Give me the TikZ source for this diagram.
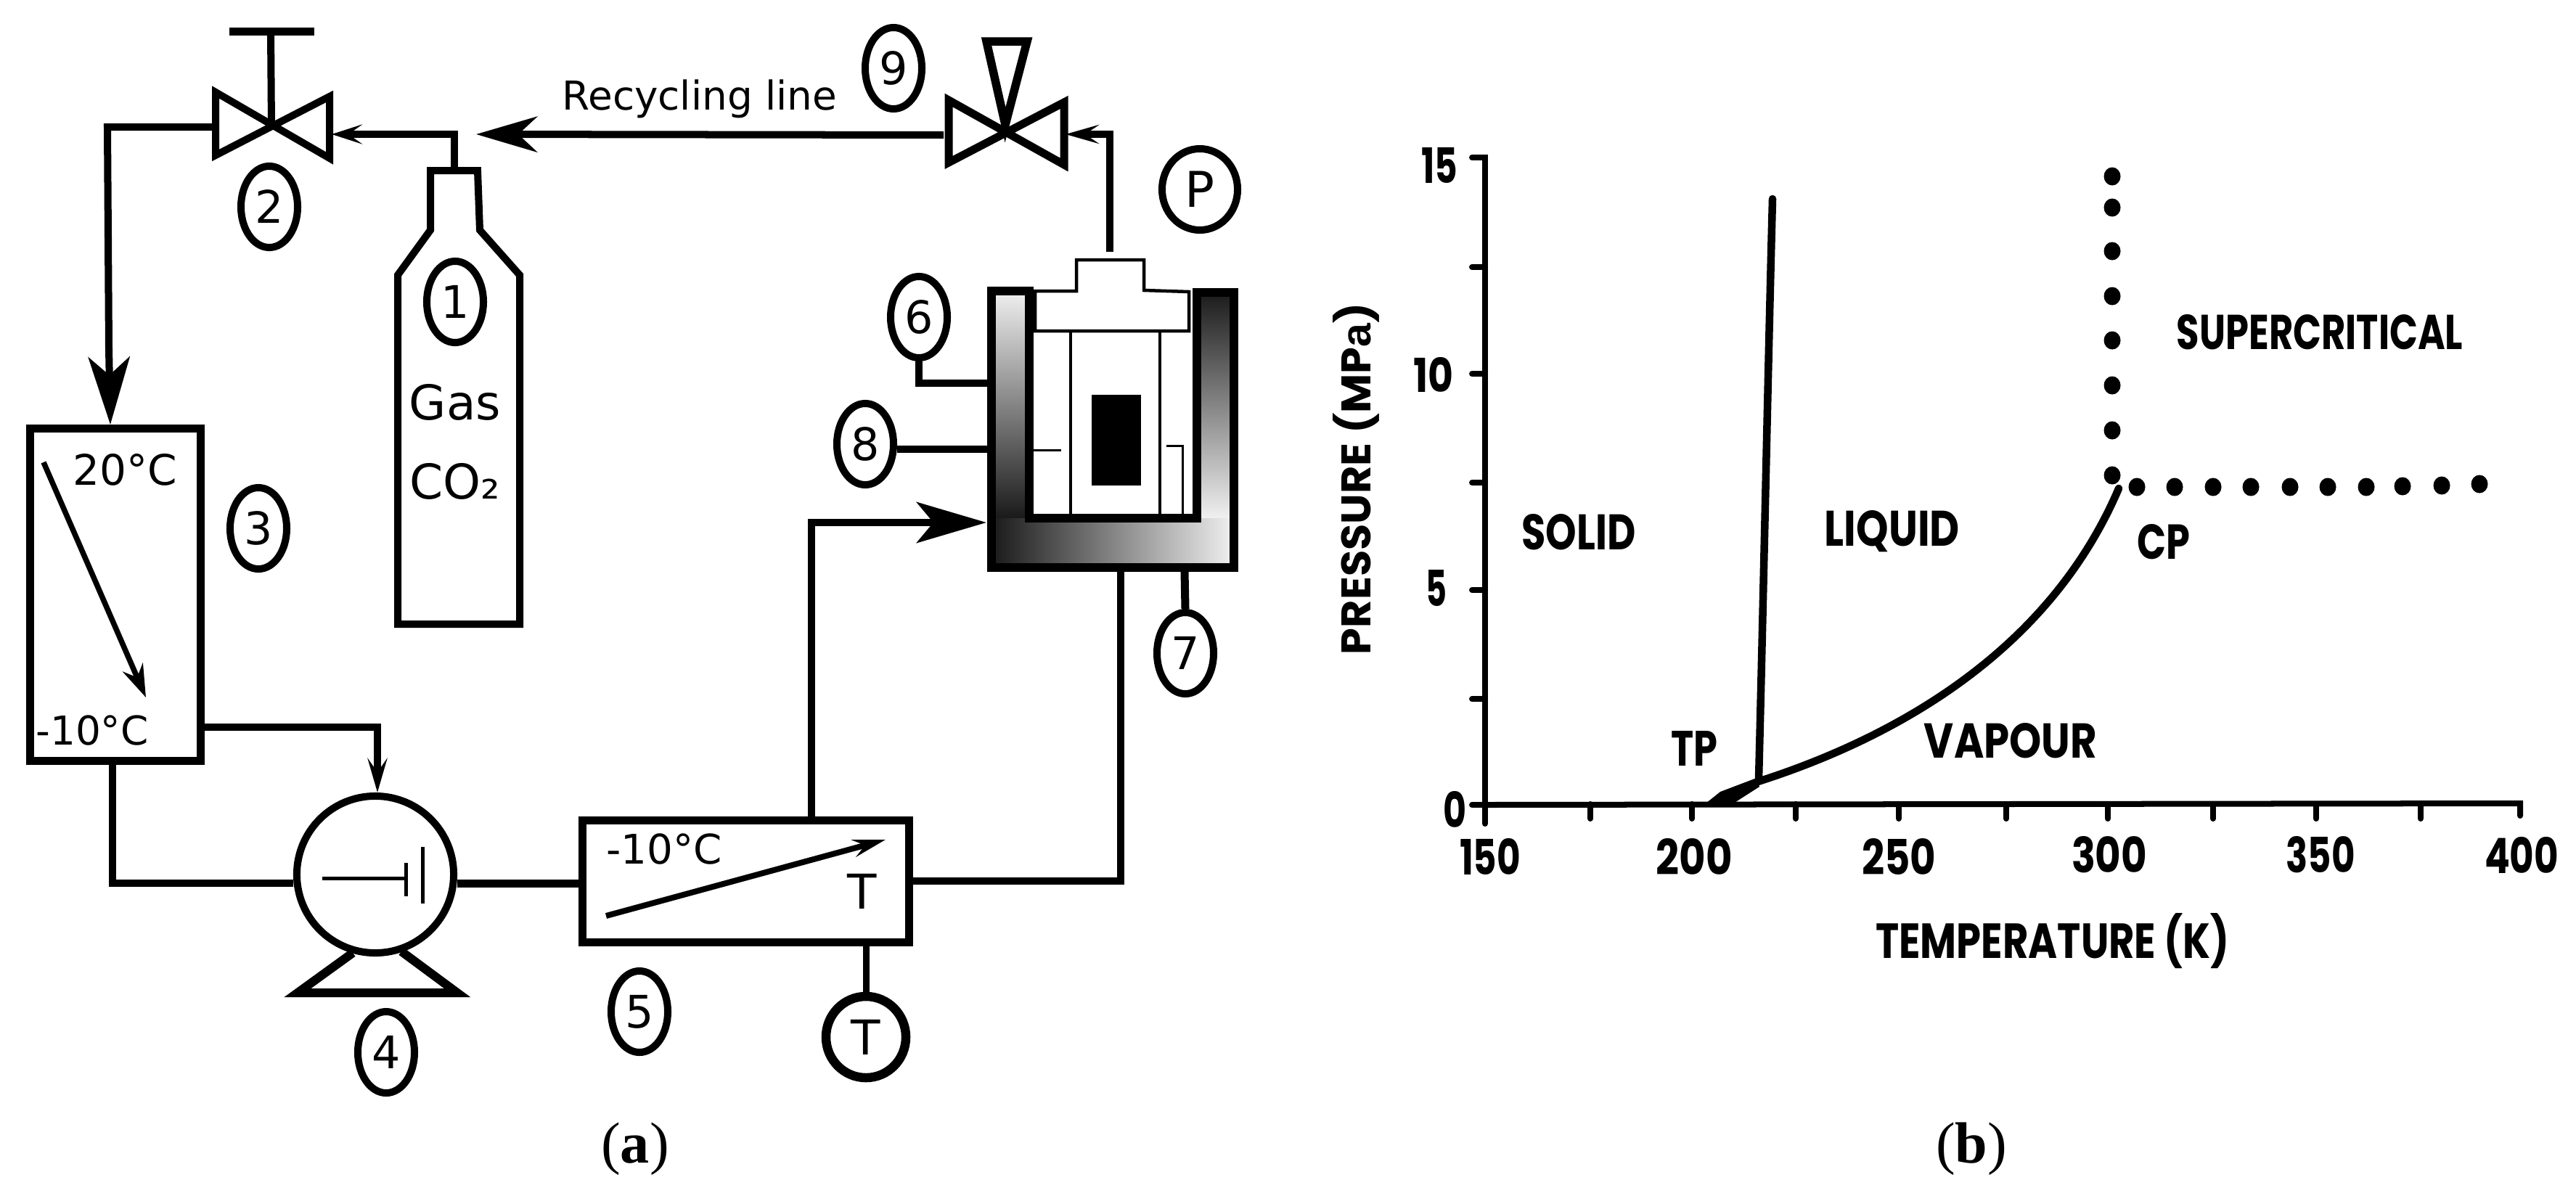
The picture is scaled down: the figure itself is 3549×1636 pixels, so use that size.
\documentclass[tikz,border=0pt]{standalone}
\usepackage{fontspec}
\setmainfont{DejaVu Sans}
\newfontfamily\capf{Liberation Serif}
\newfontfamily\grf{Poppins}
\newfontfamily\grb{Liberation Sans}
\usetikzlibrary{shapes.geometric,arrows.meta}
\newcommand\fitt[3]{\resizebox{#1cm}{#2cm}{\grf\bfseries #3}}
\newcommand\fz[1]{\fontsize{#1}{#1}\selectfont}
\tikzset{
  pipe/.style={line width=.10cm,miter limit=10},
  thinp/.style={line width=.045cm},
  hair/.style={line width=.03cm},
  valvest/.style={line width=.10cm,miter limit=10},
  numc/.style={ellipse,draw,line width=.10cm,inner sep=0pt,minimum width=.78cm,minimum height=1.12cm,font=\fz{17.6}},
  boxst/.style={rectangle,draw,line width=.11cm,inner sep=0pt},
  lab/.style={inner sep=0pt,outer sep=0pt},
  axisl/.style={line width=.08cm,line cap=round},
  curve/.style={line width=.105cm,line cap=round},
  dotst/.style={ellipse,fill=black,inner sep=0pt,minimum width=.23cm,minimum height=.25cm},
  capt/.style={inner sep=0pt,font=\capf\fz{22.8}},
}
\begin{document}
\begin{tikzpicture}[x=.01cm,y=-.01cm]
\useasboundingbox (0,0) rectangle (3549,1636);
\fill[white] (0,0) rectangle (3549,1636);

% cylinder 1
\draw[line width=.10cm,miter limit=10] (593,235) -- (658,235) -- (661,317) -- (716,379) -- (716,860) -- (548,860) -- (548,379) -- (593,317) -- cycle;
\coordinate (cyltop) at (626,232);
\node[numc] (n1) at (627,416) {1};
\node[lab,font=\fz{18.8}] (tgas) at (627,554) {Gas};
\node[lab,font=\fz{18.8}] (tco) at (627,663) {CO₂};

% valve 2
\coordinate (v2a) at (297,127); \coordinate (v2b) at (454,218); \coordinate (v2c) at (454,133); \coordinate (v2d) at (297,214);
\coordinate (v2m) at (374,174); \coordinate (v2h) at (373,43); \coordinate (v2hl) at (316,43); \coordinate (v2hr) at (433,43);
\draw[valvest] (v2a) -- (v2b) -- (v2c) -- (v2d) -- cycle;
\draw[pipe] (v2m) -- (v2h);
\draw[line width=.11cm] (v2hl) -- (v2hr);
\node[numc] (n2) at (371,285) {2};
\coordinate (v2in) at (457,185); \coordinate (v2out) at (297,175);

% box 3
\node[boxst,minimum width=2.34cm,minimum height=4.57cm] (b3) at (159,819.5) {};
\node[lab,font=\fz{16.5}] (t20) at (172,647) {20°C};
\node[lab,font=\fz{15.6}] (tm10a) at (127,1007) {-10°C};
\coordinate (a3s) at (60,637); \coordinate (a3e) at (201,961);
\draw[line width=.075cm,-{Stealth[length=.45cm,width=.30cm,inset=.15cm]}] (a3s) -- (a3e);
\node[numc] (n3) at (356,728) {3};

% valve 2 to box 3
\coordinate (c23) at (148,175); \coordinate (b3top) at (152,585);
\draw[pipe,-{Stealth[length=.93cm,width=.57cm,inset=.25cm]}] (v2out) -- (c23) -- (150,480) -- (b3top);

% cylinder to valve 2
\coordinate (c12) at (626,185);
\draw[pipe,-{Stealth[length=.42cm,width=.27cm,inset=.19cm]}] (cyltop) -- (c12) -- (v2in);

% recycling line
\coordinate (v9out) at (1300,186); \coordinate (rtip) at (656,185);
\draw[pipe,-{Stealth[length=.84cm,width=.49cm,inset=.26cm]}] (v9out) -- (rtip);
\node[lab,font=\fz{15.6}] (trec) at (964,136) {Recycling line};
\node[numc] (n9) at (1231,94) {9};

% valve 9
\coordinate (v9a) at (1307,138); \coordinate (v9b) at (1466,227); \coordinate (v9c) at (1466,141); \coordinate (v9d) at (1307,224);
\draw[line width=.11cm,miter limit=10] (v9a) -- (v9b) -- (v9c) -- (v9d) -- cycle;
\coordinate (t9a) at (1359,57); \coordinate (t9b) at (1415,57); \coordinate (t9c) at (1385,172);
\draw[line width=.115cm,miter limit=10] (t9a) -- (t9b) -- (t9c) -- cycle;
\coordinate (rlid) at (1529,347); \coordinate (c9) at (1529,185); \coordinate (v9in) at (1468,185);
\draw[line width=.105cm,-{Stealth[length=.46cm,width=.26cm,inset=.19cm]}] (rlid) -- (c9) -- (v9in);

\node[numc,minimum width=1.04cm] (nP) at (1653,261) {};
\node[lab,font=\fz{19.3}] (tP) at (1653,261) {P};

% reactor jacket
\shade[top color=gray!12,bottom color=black!90] (1366,401) rectangle (1418,714);
\shade[top color=black!90,bottom color=gray!12] (1649,401) rectangle (1700,714);
\shade[left color=black!90,right color=gray!12] (1366,714) rectangle (1700,782);
\draw[line width=.115cm,miter limit=10] (1366,401) -- (1366,782) -- (1700,782) -- (1700,403) -- (1649,403) -- (1649,714) -- (1418,714) -- (1418,401) -- cycle;
\coordinate (rw6) at (1361,528); \coordinate (rw8) at (1361,619); \coordinate (rtipin) at (1359,720);
\coordinate (rb5) at (1544,788); \coordinate (rb7) at (1632,788);

% reactor inside
\draw[thinp] (1426,401) -- (1483,401) -- (1483,358) -- (1576,358) -- (1576,400) -- (1638,402) -- (1638,456) -- (1426,456) -- cycle;
\draw[thinp] (1475,456) -- (1475,709);
\draw[thinp] (1598,456) -- (1598,709);
\fill[black] (1504,544) rectangle (1572,669);
\draw[hair] (1423,620) -- (1462,620);
\draw[hair] (1607,614) -- (1629,614) -- (1629,709);

% 6, 8, 7
\node[numc] (n6) at (1266,437) {6};
\coordinate (c6) at (1266,528);
\draw[pipe] (n6.south) -- (c6) -- (rw6);
\node[numc] (n8) at (1192,612) {8};
\draw[pipe] (n8.east |- rw8) -- (rw8);
\node[numc] (n7) at (1633,900) {7};
\draw[line width=.11cm] (rb7) -- (n7.north);

% box 5
\node[boxst,minimum width=4.49cm,minimum height=1.67cm] (b5) at (1027.5,1214.5) {};
\node[lab,font=\fz{16}] (tm10b) at (915,1170) {-10°C};
\node[lab,font=\fz{18.8}] (tTb) at (1188,1228) {T};
\coordinate (a5s) at (835,1262); \coordinate (a5e) at (1220,1157);
\draw[line width=.08cm,-{Stealth[length=.45cm,width=.24cm,inset=.16cm]}] (a5s) -- (a5e);
\node[numc] (n5) at (881,1394) {5};
\node[ellipse,draw,line width=.125cm,inner sep=0pt,minimum width=1.10cm,minimum height=1.12cm,font=\fz{18.8}] (nT) at (1193,1429) {T};
\coordinate (b5b) at (1193,1298);
\draw[line width=.09cm] (b5b) -- (nT.north);

% b5 to reactor
\coordinate (b5top) at (1118,1125); \coordinate (c5r) at (1118,720);
\draw[pipe,-{Stealth[length=.96cm,width=.56cm,inset=.23cm]}] (b5top) -- (c5r) -- (rtipin);
\coordinate (b5r) at (1255,1214); \coordinate (c5b) at (1544,1214);
\draw[pipe] (b5r) -- (c5b) -- (rb5);

% pump
\node[circle,draw,line width=.10cm,inner sep=0pt,minimum size=2.16cm] (pump) at (517,1205) {};
\draw[line width=.12cm,miter limit=10] (486,1313) -- (410,1368) -- (630,1368) -- (553,1311);
\draw[line width=.05cm] (444,1210) -- (559,1210);
\draw[line width=.05cm] (559,1189) -- (559,1235);
\draw[line width=.05cm] (582,1167) -- (582,1245);
\node[numc] (n4) at (532,1450) {4};

% pipes around pump
\coordinate (b3r) at (281,1002); \coordinate (c3p) at (520,1002); \coordinate (ptop) at (520,1092);
\draw[pipe,-{Stealth[length=.47cm,width=.27cm,inset=.19cm]}] (b3r) -- (c3p) -- (ptop);
\coordinate (b3b) at (155,1054); \coordinate (c3q) at (155,1217);
\draw[pipe] (b3b) -- (c3q) -- (pump.west |- c3q);
\coordinate (p5) at (797,1217);
\draw[line width=.11cm] (pump.east |- p5) -- (p5);

\node[capt] (capa) at (875,1583) {(\textbf{a})};
\node[capt] (capb) at (2716,1583) {(\textbf{b})};

% graph axes
\coordinate (O) at (2046,1109); \coordinate (Ytop) at (2046,217); \coordinate (Ybot) at (2046,1135); \coordinate (Xend) at (3472,1107);
\draw[axisl] (2028,217) -- (Ytop) -- (Ybot);
\draw[axisl] (O) -- (Xend) -- (3472,1124);
\foreach \yy in {368,515,665,813,963,1109} \draw[axisl] (2028,\yy) -- (2046,\yy);
\foreach \xx in {2191,2331,2474,2616,2764,2904,3049,3191,3335} \draw[axisl] (\xx,1108) -- (\xx,1128);

% phase curves
\draw[curve] (2442,274) .. controls (2436,500) and (2430,800) .. (2423,1073);
\draw[curve] (2422,1077) .. controls (2600,1020) and (2820,905) .. (2919,673);
\fill[black] (2345,1111) -- (2385,1109) -- (2424,1084) -- (2420,1072) -- (2370,1091) -- cycle;

% dots
\foreach \yy [count=\i] in {243,286,346,408,469,531,593,655} \node[dotst] (dv\i) at (2910,\yy) {};
\foreach \xx/\yy [count=\i] in {2944/671,2996/671,3049/671,3101/671,3155/671,3207/671,3260/671,3310/670,3364/669,3416/667} \node[dotst] (dh\i) at (\xx,\yy) {};

% graph labels
\node[lab] (l15) at (1983,228) {\fitt{.50}{.49}{15}};
\node[lab] (l10) at (1975,516) {\fitt{.55}{.48}{10}};
\node[lab] (l5) at (1979,810) {\fitt{.29}{.50}{5}};
\node[lab] (l0) at (2004,1115) {\fitt{.32}{.50}{0}};
\node[lab] (x150) at (2053,1180) {\fitt{.84}{.50}{150}};
\node[lab] (x200) at (2334,1180) {\fitt{1.05}{.50}{200}};
\node[lab] (x250) at (2616,1180) {\fitt{1.02}{.50}{250}};
\node[lab] (x300) at (2906,1178) {\fitt{1.04}{.50}{300}};
\node[lab] (x350) at (3197,1178) {\fitt{.95}{.50}{350}};
\node[lab] (x400) at (3474,1178) {\fitt{1.02}{.50}{400}};
\node[lab,rotate=90] (ylab) at (1868,660) {\fitt{4.84}{.52}{PRESSURE (MP{\grb\bfseries a})}};
\node[lab] (xlab) at (2828,1297) {\fitt{4.87}{.62}{TEMPERATURE (K)}};
\node[lab] (tsolid) at (2175,733) {\fitt{1.57}{.49}{SOLID}};
\node[lab] (tliquid) at (2607,732) {\fitt{1.86}{.49}{LIQUID}};
\node[lab] (tvapour) at (2770,1021) {\fitt{2.38}{.48}{VAPOUR}};
\node[lab] (ttp) at (2334,1031) {\fitt{.64}{.48}{TP}};
\node[lab] (tcp) at (2981,747) {\fitt{.73}{.48}{CP}};
\node[lab] (tsc) at (3196,458) {\fitt{3.94}{.48}{SUPERCRITICAL}};
\end{tikzpicture}
\end{document}
